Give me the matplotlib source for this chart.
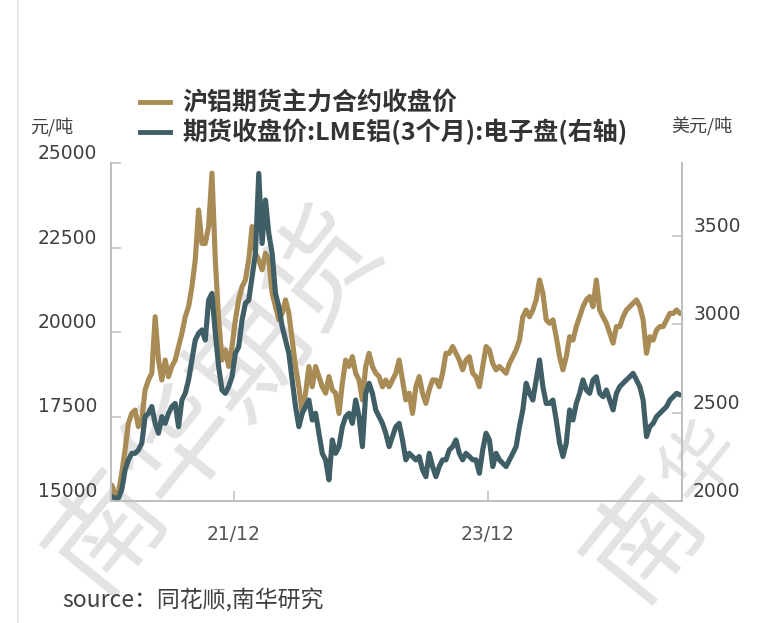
import matplotlib
matplotlib.use("Agg")
import matplotlib.pyplot as plt
import pandas as pd
from matplotlib.lines import Line2D

plt.rcParams['font.family'] = ['Noto Sans CJK SC', 'DejaVu Sans']

# SHFE aluminium main contract close, CNY/t (~10-day steps)
shfe_close = [
    15470, 15180, 15230, 15820, 16510, 17300, 17590, 17690, 17200, 17400,
    18290, 18580, 18780, 20450, 19170, 18580, 19170, 18680, 18980, 19170,
    19570, 19960, 20450, 20750, 21340, 22130, 23610, 22620,
    22620, 23120, 24700, 22130, 20360, 19170, 19470, 18980, 19570, 20360,
    20950, 21340, 21540, 22130, 23120, 22330, 22130, 21840, 22330, 22130,
    21150, 20750, 20360, 20550, 20950, 20550, 19760, 18980, 18380,
    17590, 18190, 18980, 18380, 18980, 18680, 18380, 18190, 18680, 18290,
    18190, 17590, 18480, 19170, 18980, 19270, 18780, 18580, 17990, 18980,
    19370, 18980, 18780, 18680, 18380, 18580, 18380, 18580,
    18780, 19170, 18580, 17990, 18190, 17590, 18380, 18680, 18190, 17890,
    18290, 18580, 18580, 18380, 18780, 19370, 19370, 19570, 19370, 19170,
    18880, 19170, 19270, 18780, 18680, 18380, 18980, 19570, 19470,
    19070, 18880, 18980, 18880, 18780, 19070, 19270, 19470, 19760, 20450,
    20650, 20450, 20650, 20950, 21540, 21150, 20360, 20260, 20360, 19860,
    19270, 18880, 19270, 19860, 19760, 20160, 20450, 20750,
    20950, 21050, 20750, 21540, 20650, 20450, 20260, 19960, 19670, 20160,
    20160, 20450, 20650, 20750, 20850, 20950, 20750, 20360, 19370, 19860,
    19760, 20060, 20160, 20160, 20360, 20550, 20550, 20650, 20550,
]

# LME 3-month aluminium close, USD/t (right axis)
lme_close = [
    2025, 2016, 2016, 2063, 2176, 2233, 2270, 2270, 2289, 2327,
    2478, 2497, 2535, 2440, 2384, 2478, 2440, 2497, 2535, 2553,
    2421, 2572, 2610, 2686, 2799, 2912, 2950, 2969,
    2912, 3138, 3176, 2950, 2761, 2629, 2610, 2648, 2704, 2837,
    2874, 3025, 3120, 3138, 3271, 3403, 3856, 3459, 3705, 3516,
    3403, 3176, 3101, 2988, 2912, 2837, 2686, 2535, 2421,
    2497, 2535, 2572, 2459, 2497, 2384, 2270, 2233, 2120, 2346,
    2270, 2308, 2421, 2478, 2497, 2440, 2572, 2478, 2308, 2610,
    2667, 2610, 2516, 2478, 2440, 2384, 2308, 2365,
    2421, 2440, 2346, 2233, 2270, 2252, 2233, 2252, 2176, 2138,
    2270, 2195, 2138, 2195, 2233, 2233, 2289, 2308, 2346, 2270,
    2233, 2270, 2252, 2233, 2233, 2157, 2289, 2384, 2346,
    2195, 2270, 2233, 2214, 2195, 2233, 2270, 2308, 2421, 2516,
    2667, 2610, 2572, 2686, 2799, 2648, 2553, 2553, 2572, 2459,
    2327, 2252, 2327, 2516, 2459, 2553, 2610, 2686,
    2629, 2610, 2686, 2704, 2610, 2591, 2629, 2572, 2516, 2610,
    2648, 2667, 2686, 2704, 2723, 2686, 2648, 2572, 2365, 2421,
    2440, 2478, 2497, 2516, 2535, 2572, 2591, 2610, 2601,
]

dates = pd.date_range('2020-12-15', '2025-06-06', periods=len(shfe_close))

left_ticks = [15000, 17500, 20000, 22500, 25000]
right_ticks = [2000, 2500, 3000, 3500]
x_ticks = pd.to_datetime(['2021-12-01', '2023-12-01'])
x_labels = ['21/12', '23/12']

series_names = ['沪铝期货主力合约收盘价', '期货收盘价:LME铝(3个月):电子盘(右轴)']
gold = '#A98C55'
teal = '#3F5E66'
grey = '#BFBFBF'
text_c = '#404040'

W, H = 762, 623
fig = plt.figure(figsize=(W / 100, H / 100), dpi=100)
ax = fig.add_axes([111 / W, 1 - 501 / H, 571 / W, 338 / H])
ax.patch.set_visible(False)

ax.plot(dates, shfe_close, color=gold, lw=3.7, solid_joinstyle='round',
        solid_capstyle='round', zorder=2)
ax.set_ylim(15000, 25000)
ax.set_xlim(pd.Timestamp('2020-12-13'), pd.Timestamp('2025-06-12'))
ax.set_yticks(left_ticks)
ax.set_xticks(x_ticks)
ax.set_xticklabels(x_labels)

ax2 = ax.twinx()
ax2.patch.set_visible(False)
ax2.plot(dates, lme_close, color=teal, lw=3.7, solid_joinstyle='round',
         solid_capstyle='round', zorder=2)
ax2.set_ylim(2000, 3915)
ax2.set_yticks(right_ticks)

for a in (ax, ax2):
    a.spines['top'].set_visible(False)
    for s in ('left', 'right', 'bottom'):
        a.spines[s].set_color(grey)
        a.spines[s].set_linewidth(1.3)
    a.tick_params(direction='in', length=7, width=1.1, color=grey,
                  labelsize=13.5, labelcolor=text_c)

ax.tick_params(axis='y', pad=10)
ax.tick_params(axis='x', pad=17, labelcolor='#555555')
ax2.tick_params(axis='y', pad=8)
for lab in ax.get_yticklabels() + ax2.get_yticklabels() + ax.get_xticklabels():
    lab.set_fontfamily('DejaVu Sans')
for lab in ax.get_yticklabels() + ax2.get_yticklabels():
    lab.set_verticalalignment('bottom')

# unit labels
fig.text(30 / W, 1 - 127 / H, '元/吨', fontsize=13, color=text_c, va='center')
fig.text(671 / W, 1 - 127 / H, '美元/吨', fontsize=13, color=text_c, va='center')

# legend
handles = [Line2D([], [], color=gold, lw=3.5), Line2D([], [], color=teal, lw=3.5)]
fig.legend(handles, series_names, loc='upper left',
           bbox_to_anchor=(140 / W, 1 - 92 / H), frameon=False,
           prop={'size': 18, 'weight': 'bold'}, labelcolor='#333333',
           handlelength=1.2, handletextpad=0.5, labelspacing=0.12,
           borderpad=0, borderaxespad=0)

# source note
fig.text(62 / W, 1 - 601 / H, 'source：同花顺,南华研究', fontsize=16.5,
         color=text_c, va='center')

# watermark (left one whole, right one only its first characters show)
fig.text(215 / W, 1 - 400 / H, '南华期货', fontsize=82, color='#E3E3E3',
         rotation=51, ha='center', va='center', zorder=-1,
         rotation_mode='anchor')
fig.text(645 / W, 1 - 540 / H, '南', fontsize=82, color='#E3E3E3',
         rotation=51, ha='center', va='center', zorder=-1,
         rotation_mode='anchor')
fig.text(700 / W, 1 - 462 / H, '华', fontsize=56, color='#E3E3E3',
         rotation=51, ha='center', va='center', zorder=-1,
         rotation_mode='anchor')

# card border
fig.add_artist(Line2D([18 / W, 18 / W], [0, 1], color='#E6E6E6', lw=1.2))

fig.savefig('out.png', dpi=100)
